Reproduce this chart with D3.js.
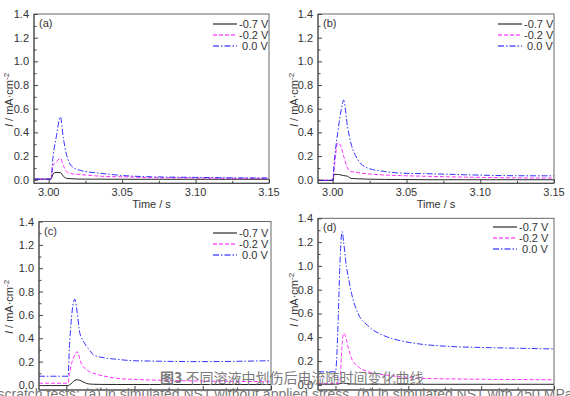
<!DOCTYPE html>
<html><head><meta charset="utf-8">
<script src="https://cdn.jsdelivr.net/npm/d3@7"></script>
<style>
html,body{margin:0;padding:0;background:#fff;overflow:hidden}
svg{display:block;font-family:Arial,"Liberation Sans",sans-serif}
</style></head><body>
<svg id="c" width="570" height="396"></svg>
<script>
// ---------- data ----------
const seriesNames = ["-0.7 V", "-0.2 V", " 0.0 V"];
const yTicks = [0, 0.2, 0.4, 0.6, 0.8, 1.0, 1.2, 1.4];
const xTickLabels = [3.00, 3.05, 3.10, 3.15];

const timeA = [2.99, 3.0015, 3.003, 3.005, 3.008, 3.010, 3.012, 3.016, 3.020, 3.025, 3.035, 3.05, 3.07, 3.10, 3.13, 3.15];
const a07 = [0.005, 0.005, 0.05, 0.062, 0.06, 0.03, 0.012, 0.008, 0.006, 0.005, 0.005, 0.004, 0.004, 0.004, 0.004, 0.004];
const a02 = [0.005, 0.005, 0.12, 0.15, 0.18, 0.12, 0.07, 0.05, 0.045, 0.04, 0.03, 0.025, 0.018, 0.015, 0.012, 0.012];
const a00 = [0.005, 0.005, 0.2, 0.35, 0.53, 0.35, 0.22, 0.11, 0.085, 0.07, 0.055, 0.036, 0.025, 0.02, 0.016, 0.015];

const timeB = [2.99, 3.000, 3.001, 3.0034, 3.0056, 3.0074, 3.010, 3.0123, 3.017, 3.0235, 3.035, 3.046, 3.068, 3.09, 3.124, 3.15];
const b07 = [-0.005, -0.005, 0.045, 0.045, 0.04, 0.035, 0.03, 0.012, 0.008, 0.005, 0.003, 0.002, 0.0, 0.0, 0.0, 0.0];
const b02 = [-0.005, -0.005, 0.1, 0.31, 0.28, 0.2, 0.1, 0.07, 0.06, 0.05, 0.04, 0.035, 0.028, 0.022, 0.016, 0.014];
const b00 = [-0.005, -0.005, 0.15, 0.4, 0.58, 0.672, 0.45, 0.31, 0.17, 0.1, 0.07, 0.056, 0.05, 0.042, 0.034, 0.033];

const timeC = [2.98, 3.0013, 3.0024, 3.0063, 3.008, 3.010, 3.011, 3.015, 3.017, 3.020, 3.0245, 3.037, 3.049, 3.061, 3.098, 3.15];
const c07 = [-0.005, -0.005, 0.0, 0.04, 0.045, 0.04, 0.035, 0.012, 0.008, 0.006, 0.005, 0.004, 0.004, 0.004, 0.004, 0.004];
const c02 = [0.015, 0.015, 0.1, 0.26, 0.285, 0.22, 0.185, 0.13, 0.114, 0.1, 0.085, 0.057, 0.048, 0.043, 0.034, 0.028];
const c00 = [0.075, 0.075, 0.35, 0.734, 0.62, 0.44, 0.41, 0.33, 0.3, 0.256, 0.24, 0.22, 0.208, 0.205, 0.2, 0.208];

const timeD = [2.988, 3.000, 3.002, 3.003, 3.0046, 3.0056, 3.0075, 3.0086, 3.011, 3.0155, 3.022, 3.034, 3.045, 3.057, 3.08, 3.102, 3.125, 3.15];
const d07 = [0.005, 0.005, 0.008, 0.01, 0.015, 0.015, 0.012, 0.01, 0.008, 0.006, 0.005, 0.005, 0.005, 0.005, 0.005, 0.005, 0.005, 0.005];
const d02 = [0.01, 0.01, 0.01, 0.03, 0.35, 0.434, 0.38, 0.32, 0.224, 0.154, 0.112, 0.084, 0.068, 0.056, 0.05, 0.047, 0.045, 0.043];
const d00 = [0.11, 0.11, 0.6, 1.0, 1.288, 1.2, 0.994, 0.92, 0.77, 0.6, 0.5, 0.41, 0.37, 0.345, 0.322, 0.314, 0.308, 0.302];

const captionCN = "不同溶液中划伤后电流随时间变化曲线";
const captionEN = "scratch tests: (a) in simulated NS1 without applied stress, (b) in simulated NS1 with 450 MPa";

// ---------- styles ----------
const colors = ["#000000", "#ff00ff", "#0000ff"];
const dashes = [null, "4,2", "6,2,1.5,2"];

const panels = [
  {tag:"(a)", t:timeA, ys:[a07,a02,a00], xd:[2.99,3.15], yd:[-0.03,1.4], x0:34, x1:269, y0:14, y1:183.3, labels:true,
   leg:{x:213, y:24}, ylab:{x:13, y:100}},
  {tag:"(b)", t:timeB, ys:[b07,b02,b00], xd:[2.99,3.15], yd:[-0.03,1.4], x0:318, x1:554, y0:14, y1:183.3, labels:true,
   leg:{x:498, y:24}, ylab:{x:298, y:100}},
  {tag:"(c)", t:timeC, ys:[c07,c02,c00], xd:[2.98,3.15], yd:[-0.043,1.4], x0:39, x1:271, y0:221.5, y1:390, labels:false,
   leg:{x:213, y:233}, ylab:{x:13, y:307}},
  {tag:"(d)", t:timeD, ys:[d07,d02,d00], xd:[2.988,3.15], yd:[-0.043,1.4], x0:318, x1:554, y0:218.3, y1:390, labels:false,
   leg:{x:493, y:227}, ylab:{x:298, y:300}}
];

const svg = d3.select("#c");
const axisCol = "#444";
const txtCol = "#333";

panels.forEach(p => {
  const x = d3.scaleLinear().domain(p.xd).range([p.x0, p.x1]);
  const y = d3.scaleLinear().domain(p.yd).range([p.y1, p.y0]);
  const g = svg.append("g");

  const cid = "clip" + p.tag.replace(/[()]/g, "");
  svg.append("clipPath").attr("id", cid).append("rect")
    .attr("x", p.x0).attr("y", p.y0).attr("width", p.x1 - p.x0).attr("height", p.y1 - p.y0);

  const line = d3.line().x(d => x(d[0])).y(d => y(d[1])).curve(d3.curveMonotoneX);
  p.ys.forEach((vals, i) => {
    g.append("path")
      .datum(p.t.map((tt, k) => [tt, vals[k]]))
      .attr("clip-path", `url(#${cid})`)
      .attr("d", line)
      .attr("fill", "none")
      .attr("stroke", colors[i])
      .attr("stroke-opacity", i === 0 ? 0.85 : 0.8)
      .attr("stroke-width", 1)
      .attr("stroke-dasharray", dashes[i]);
  });

  g.append("rect").attr("x", p.x0).attr("y", p.y0).attr("width", p.x1 - p.x0).attr("height", p.y1 - p.y0)
    .attr("fill", "none").attr("stroke", "#666").attr("stroke-width", 1);
  g.append("line").attr("x1", p.x0).attr("x2", p.x0).attr("y1", p.y0).attr("y2", p.y1).attr("stroke", axisCol);
  g.append("line").attr("x1", p.x0).attr("x2", p.x1).attr("y1", p.y1).attr("y2", p.y1).attr("stroke", axisCol);

  const yAx = d3.axisRight(y).tickValues(yTicks).tickSize(4).tickFormat("");
  const yG = g.append("g").attr("transform", `translate(${p.x0},0)`).call(yAx);
  yG.select(".domain").remove();
  yG.selectAll("line").attr("stroke", axisCol);
  const yMin = d3.axisRight(y).tickValues(d3.range(0.1, 1.4, 0.2)).tickSize(2.5).tickFormat("");
  const yMG = g.append("g").attr("transform", `translate(${p.x0},0)`).call(yMin);
  yMG.select(".domain").remove();
  yMG.selectAll("line").attr("stroke", axisCol);
  yTicks.forEach(v => {
    g.append("text").attr("x", p.x0 - 5).attr("y", y(v) + 4).attr("text-anchor", "end")
      .attr("font-size", 11).attr("fill", txtCol).text(v.toFixed(1));
  });

  const xAx = d3.axisTop(x).tickValues(xTickLabels).tickSize(4).tickFormat("");
  const xG = g.append("g").attr("transform", `translate(0,${p.y1})`).call(xAx);
  xG.select(".domain").remove();
  xG.selectAll("line").attr("stroke", axisCol);
  const xMin = d3.axisTop(x).tickValues([3.025, 3.075, 3.125]).tickSize(2.5).tickFormat("");
  const xMG = g.append("g").attr("transform", `translate(0,${p.y1})`).call(xMin);
  xMG.select(".domain").remove();
  xMG.selectAll("line").attr("stroke", axisCol);
  if (p.labels) {
    xTickLabels.forEach(v => {
      g.append("text").attr("x", x(v)).attr("y", p.y1 + 13).attr("text-anchor", "middle")
        .attr("font-size", 11).attr("fill", txtCol).text(v.toFixed(2));
    });
    g.append("text").attr("x", (p.x0 + p.x1) / 2).attr("y", p.y1 + 25).attr("text-anchor", "middle")
      .attr("font-size", 11).attr("fill", txtCol).text("Time / s");
  }

  const yl = g.append("text").attr("transform", `translate(${p.ylab.x},${p.ylab.y}) rotate(-90)`)
    .attr("text-anchor", "middle").attr("font-size", 11).attr("fill", txtCol);
  yl.append("tspan").attr("font-style", "italic").text("I");
  yl.append("tspan").text(" / mA·cm");
  yl.append("tspan").attr("dy", -4).attr("font-size", 8).text("-2");

  g.append("text").attr("x", p.x0 + 5).attr("y", p.y0 + 13).attr("font-size", 11).attr("fill", txtCol).text(p.tag);

  seriesNames.forEach((n, i) => {
    const ly = p.leg.y + i * 11;
    g.append("line").attr("x1", p.leg.x).attr("x2", p.leg.x + 24).attr("y1", ly).attr("y2", ly)
      .attr("stroke", colors[i]).attr("stroke-width", 1).attr("stroke-dasharray", dashes[i]);
    g.append("text").attr("x", p.leg.x + 26).attr("y", ly + 4).attr("font-size", 11).attr("fill", txtCol)
      .attr("xml:space", "preserve").style("white-space", "pre").text(n);
  });
});

// caption overlay (Chinese), drawn over the plots without a background
const ct = svg.append("text").attr("x", 160).attr("y", 383).attr("font-size", 14)
  .attr("font-family", "'Noto Sans CJK SC', sans-serif").attr("fill", "#7a7a7a");
ct.append("tspan").attr("font-weight", "bold").text("图3");
ct.append("tspan").text(" " + captionCN);

// English line at the bottom (cut off by image edge)
const en = svg.append("text").attr("y", 399).attr("font-size", 14).attr("fill", "#777").text(captionEN);
const tmp = svg.append("text").attr("font-size", 14).text("scratch tests: ");
const pw = tmp.node().getComputedTextLength();
tmp.remove();
en.attr("x", 80 - pw);
</script>
</body></html>
